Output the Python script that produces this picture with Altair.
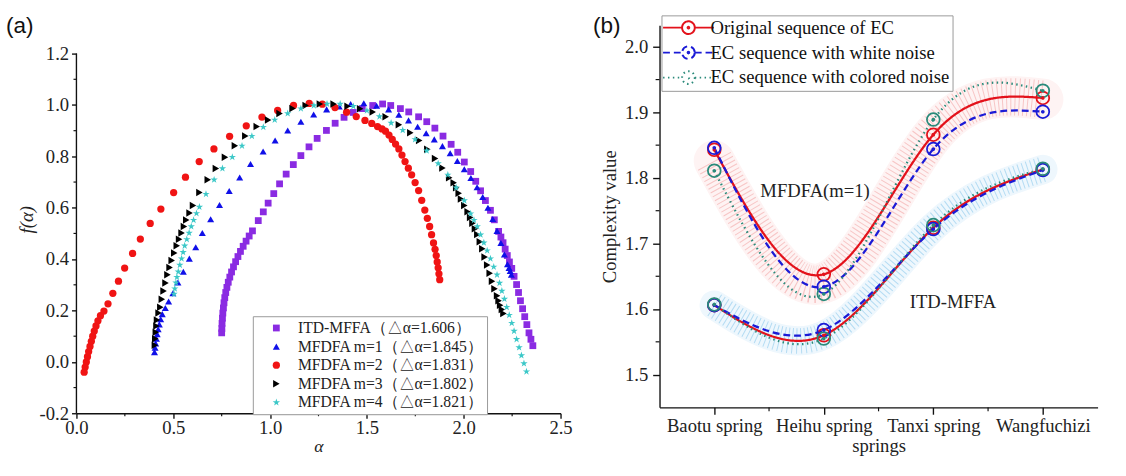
import json
import altair as alt
import pandas as pd

SERIF = "Liberation Serif"
SANS = "Liberation Sans"

# ======================= panel (a) data =======================
alpha_ticks = [0.0, 0.5, 1.0, 1.5, 2.0, 2.5]
alpha_minor = [0.25, 0.75, 1.25, 1.75, 2.25]
f_ticks = [-0.2, 0.0, 0.2, 0.4, 0.6, 0.8, 1.0, 1.2]
f_minor = [-0.1, 0.1, 0.3, 0.5, 0.7, 0.9, 1.1]

series_a = ["ITD-MFFA（△α=1.606）", "MFDFA m=1（△α=1.845）", "MFDFA m=2（△α=1.831）",
            "MFDFA m=3（△α=1.802）", "MFDFA m=4（△α=1.821）"]
colors_a = ["#8a2be2", "#1010e8", "#f01414", "#000000", "#3cc8c8"]
STAR = ("M0,-1L0.2245,-0.309L0.951,-0.309L0.363,0.118L0.588,0.809L0,0.382"
        "L-0.588,0.809L-0.363,0.118L-0.951,-0.309L-0.2245,-0.309Z")
shapes_a = ["square", "triangle-up", "circle", "triangle-right", STAR]
sizes_a = [48, 62, 58, 58, 90]

itd_points = [(0.750, 0.113), (0.751, 0.130), (0.752, 0.150), (0.754, 0.170), (0.756, 0.190),
              (0.759, 0.210), (0.762, 0.230), (0.766, 0.250), (0.771, 0.270), (0.777, 0.290),
              (0.784, 0.310), (0.792, 0.330), (0.801, 0.350), (0.811, 0.370), (0.822, 0.390),
              (0.834, 0.410), (0.847, 0.430), (0.861, 0.450), (0.876, 0.470), (0.892, 0.490),
              (0.909, 0.510), (0.939, 0.550), (0.965, 0.584), (0.990, 0.618), (1.019, 0.655),
              (1.049, 0.693), (1.083, 0.731), (1.120, 0.768), (1.159, 0.803), (1.201, 0.837),
              (1.243, 0.870), (1.291, 0.901), (1.336, 0.929), (1.382, 0.952), (1.429, 0.971),
              (1.476, 0.986), (1.530, 0.998), (1.581, 1.004), (1.623, 0.998), (1.673, 0.986),
              (1.716, 0.973), (1.767, 0.954), (1.809, 0.935), (1.851, 0.910), (1.893, 0.879),
              (1.935, 0.847), (1.969, 0.816), (2.003, 0.778), (2.036, 0.741), (2.062, 0.703),
              (2.087, 0.666), (2.112, 0.628), (2.138, 0.590), (2.158, 0.553), (2.180, 0.508),
              (2.192, 0.486), (2.203, 0.464), (2.214, 0.439), (2.225, 0.414), (2.236, 0.389),
              (2.248, 0.364), (2.260, 0.333), (2.273, 0.301), (2.283, 0.270), (2.293, 0.238),
              (2.304, 0.207), (2.315, 0.176), (2.326, 0.145), (2.337, 0.113), (2.347, 0.088),
              (2.357, 0.063)]

m1_points = [(0.403, 0.038), (0.406, 0.055), (0.409, 0.072), (0.413, 0.090), (0.417, 0.108),
             (0.422, 0.127), (0.428, 0.146), (0.435, 0.166), (0.443, 0.186), (0.459, 0.210),
             (0.476, 0.235), (0.498, 0.267), (0.524, 0.309), (0.552, 0.351), (0.583, 0.402),
             (0.616, 0.446), (0.650, 0.502), (0.693, 0.555), (0.739, 0.611), (0.789, 0.665),
             (0.843, 0.718), (0.899, 0.770), (0.964, 0.819), (1.026, 0.862), (1.091, 0.901),
             (1.159, 0.935), (1.225, 0.963), (1.292, 0.983), (1.357, 0.994), (1.416, 1.004),
             (1.484, 1.007), (1.550, 0.997), (1.612, 0.983), (1.665, 0.962), (1.715, 0.940),
             (1.762, 0.915), (1.806, 0.890), (1.848, 0.866), (1.890, 0.840), (1.930, 0.812),
             (1.967, 0.782), (2.003, 0.750), (2.037, 0.716), (2.069, 0.680), (2.098, 0.642),
             (2.125, 0.600), (2.150, 0.556), (2.172, 0.510), (2.192, 0.463), (2.210, 0.418),
             (2.226, 0.380), (2.234, 0.366), (2.240, 0.354), (2.246, 0.339)]

m2_points = [(0.040, -0.040), (0.045, -0.020), (0.051, 0.000), (0.057, 0.020), (0.063, 0.040),
             (0.070, 0.060), (0.077, 0.080), (0.084, 0.100), (0.092, 0.120), (0.101, 0.140),
             (0.111, 0.160), (0.124, 0.180), (0.142, 0.198), (0.163, 0.226), (0.188, 0.267),
             (0.217, 0.314), (0.249, 0.365), (0.290, 0.422), (0.330, 0.478), (0.381, 0.539),
             (0.436, 0.595), (0.502, 0.659), (0.563, 0.719), (0.634, 0.780), (0.710, 0.829),
             (0.791, 0.878), (0.877, 0.919), (0.958, 0.953), (1.039, 0.979), (1.121, 0.998),
             (1.202, 1.006), (1.270, 1.003), (1.335, 0.990), (1.395, 0.972), (1.445, 0.955),
             (1.490, 0.940), (1.525, 0.928), (1.555, 0.916), (1.578, 0.907), (1.596, 0.898),
             (1.614, 0.883), (1.631, 0.866), (1.648, 0.848), (1.665, 0.829), (1.681, 0.805),
             (1.697, 0.780), (1.714, 0.754), (1.731, 0.728), (1.749, 0.698), (1.767, 0.667),
             (1.783, 0.629), (1.799, 0.591), (1.812, 0.559), (1.824, 0.527), (1.834, 0.495),
             (1.844, 0.463), (1.852, 0.438), (1.858, 0.414), (1.863, 0.389), (1.868, 0.366),
             (1.872, 0.343), (1.876, 0.320)]

m3_points = [(0.405, 0.065), (0.407, 0.090), (0.410, 0.115), (0.413, 0.140), (0.416, 0.163),
             (0.424, 0.190), (0.433, 0.213), (0.441, 0.244), (0.450, 0.276), (0.460, 0.307),
             (0.470, 0.339), (0.481, 0.367), (0.492, 0.395), (0.505, 0.424), (0.518, 0.452),
             (0.530, 0.477), (0.543, 0.502), (0.555, 0.527), (0.567, 0.552), (0.584, 0.580),
             (0.602, 0.609), (0.635, 0.659), (0.678, 0.709), (0.720, 0.753), (0.767, 0.797),
             (0.818, 0.841), (0.872, 0.879), (0.931, 0.916), (0.990, 0.942), (1.049, 0.967),
             (1.116, 0.986), (1.184, 0.998), (1.257, 1.004), (1.328, 1.004), (1.400, 0.995),
             (1.465, 0.985), (1.530, 0.973), (1.597, 0.954), (1.665, 0.923), (1.724, 0.892),
             (1.770, 0.862), (1.812, 0.828), (1.852, 0.792), (1.890, 0.755), (1.925, 0.717),
             (1.948, 0.697), (1.961, 0.678), (1.974, 0.656), (1.986, 0.634), (2.003, 0.609),
             (2.020, 0.584), (2.033, 0.562), (2.045, 0.540), (2.058, 0.518), (2.070, 0.496),
             (2.083, 0.468), (2.096, 0.440), (2.108, 0.408), (2.121, 0.377), (2.134, 0.345),
             (2.146, 0.314), (2.159, 0.285), (2.172, 0.257), (2.180, 0.238), (2.188, 0.220),
             (2.197, 0.204), (2.205, 0.188)]

m4_points = [(0.504, 0.264), (0.508, 0.285), (0.514, 0.308), (0.519, 0.330), (0.526, 0.351),
             (0.534, 0.377), (0.543, 0.402), (0.551, 0.427), (0.559, 0.452), (0.570, 0.477),
             (0.582, 0.502), (0.593, 0.527), (0.605, 0.552), (0.620, 0.578), (0.635, 0.603),
             (0.669, 0.653), (0.711, 0.709), (0.754, 0.753), (0.805, 0.797), (0.855, 0.841),
             (0.906, 0.879), (0.965, 0.914), (1.024, 0.942), (1.091, 0.967), (1.159, 0.986),
             (1.226, 0.998), (1.294, 1.004), (1.362, 1.004), (1.430, 0.995), (1.500, 0.978),
             (1.565, 0.955), (1.625, 0.930), (1.685, 0.902), (1.749, 0.866), (1.809, 0.822),
             (1.868, 0.772), (1.918, 0.728), (1.961, 0.678), (2.003, 0.628), (2.036, 0.577),
             (2.053, 0.552), (2.070, 0.527), (2.087, 0.495), (2.104, 0.464), (2.121, 0.433),
             (2.138, 0.402), (2.155, 0.370), (2.172, 0.339), (2.185, 0.307), (2.197, 0.276),
             (2.210, 0.245), (2.222, 0.213), (2.235, 0.182), (2.248, 0.151), (2.260, 0.120),
             (2.273, 0.088), (2.286, 0.056), (2.298, 0.025), (2.311, -0.006), (2.324, -0.038)]

# ======================= panel (b) data =======================
springs = ["Baotu spring", "Heihu spring", "Tanxi spring", "Wangfuchizi"]
spring_idx = [0, 1, 2, 3]
spring_minor = [0.5, 1.5, 2.5]
cv_ticks = [1.5, 1.6, 1.7, 1.8, 1.9, 2.0]
cv_minor = [1.55, 1.65, 1.75, 1.85, 1.95]

seq_names = ["Original sequence of EC", "\u00a0EC sequence with white noise",
             "\u00a0EC sequence with colored noise"]
colors_b = ["#e3121b", "#1b1bd6", "#2a8a7a"]
dash_b = [[1, 0], [7, 4], [1.5, 3.5]]

mfdfa_original = [1.843, 1.653, 1.866, 1.922]
mfdfa_white = [1.846, 1.634, 1.844, 1.901]
mfdfa_colored = [1.811, 1.623, 1.889, 1.933]
itd_original = [1.606, 1.560, 1.724, 1.813]
itd_white = [1.606, 1.568, 1.722, 1.812]
itd_colored = [1.607, 1.555, 1.728, 1.814]
band_mfdfa = [1.826, 1.640, 1.866, 1.920]
band_itd = [1.606, 1.560, 1.725, 1.813]

annotations = ["MFDFA(m=1)", "ITD-MFFA"]
annot_x = [0.92, 2.18]
annot_v = [1.780, 1.610]

# ======================= build tables =======================
rows = []
for name, pts in zip(series_a, [itd_points, m1_points, m2_points, m3_points, m4_points]):
    for a, f in pts:
        rows.append({"series": name, "alpha": a, "f": f})
df_a = pd.DataFrame(rows)

rows = []
for method, vals in [("MFDFA", [mfdfa_original, mfdfa_white, mfdfa_colored]),
                     ("ITD", [itd_original, itd_white, itd_colored])]:
    for seq, vv in zip(seq_names, vals):
        for i, v in zip(spring_idx, vv):
            rows.append({"x": i, "v": v, "method": method, "seq": seq})
df_b = pd.DataFrame(rows)

df_band = pd.DataFrame(
    [{"x": i, "v": v, "method": "MFDFA"} for i, v in zip(spring_idx, band_mfdfa)]
    + [{"x": i, "v": v, "method": "ITD"} for i, v in zip(spring_idx, band_itd)])

df_ann = pd.DataFrame({"x": annot_x, "v": annot_v, "label": annotations})


def axis_style(**kw):
    base = dict(grid=False, domainColor="#111", domainWidth=1.4, tickColor="#111",
                tickWidth=1.4, labelFont=SERIF, labelFontSize=19, labelColor="#222",
                titleFont=SERIF, titleFontSize=19, titleFontWeight="normal",
                titleColor="#222", labelFlush=False, labelOverlap=False)
    base.update(kw)
    return alt.Axis(**base)


# ======================= panel (a) =======================
PX_PER_F = 262.0              # vertical pixels per unit of f(alpha)
W_A = 494
TOP_EXTRA = 29                # empty space above the 1.2 tick
H_A = int(round(1.4 * PX_PER_F)) + TOP_EXTRA
F_TOP = 1.2 + TOP_EXTRA / PX_PER_F
minus_fix = "replace(format(datum.value, '.1f'), '\u2212', '-')"

x_a = alt.X("alpha:Q", scale=alt.Scale(domain=[0, 2.5], nice=False, zero=False),
            axis=axis_style(values=alpha_ticks, labelExpr=minus_fix, title="α",
                            titleFontStyle="italic", titleFontSize=18, tickSize=5,
                            labelPadding=1, titlePadding=0))
y_a = alt.Y("f:Q", title="f(α)", scale=alt.Scale(domain=[-0.2, F_TOP], nice=False, zero=False),
            axis=axis_style(values=f_ticks, labelExpr=minus_fix, title="f(α)",
                            titleFontStyle="italic", tickSize=5, labelPadding=3,
                            titlePadding=3, domain=False))

leg_a = alt.Legend(title=None, orient="none", legendX=180, legendY=297, direction="vertical",
                   labelFont=SERIF, labelFontSize=16, labelColor="#222", symbolSize=50,
                   strokeColor="#999", fillColor="white", padding=4, rowPadding=3,
                   symbolOffset=12, labelOffset=14, labelLimit=400)

points_a = alt.Chart(df_a).mark_point(filled=True, opacity=1, strokeWidth=0).encode(
    x=x_a, y=y_a,
    color=alt.Color("series:N", scale=alt.Scale(domain=series_a, range=colors_a), legend=leg_a),
    shape=alt.Shape("series:N", scale=alt.Scale(domain=series_a, range=shapes_a), legend=leg_a),
    size=alt.Size("series:N", scale=alt.Scale(domain=series_a, range=sizes_a), legend=None),
)

yline_a = alt.Chart(pd.DataFrame({"f": [f_ticks[0]], "f_end": [f_ticks[-1]]})).mark_rule(
    color="#111", strokeWidth=1.4).encode(
    x=alt.value(0), y=alt.Y("f:Q", title="f(α)"), y2="f_end:Q")
minor_x_a = alt.Chart(pd.DataFrame({"alpha": alpha_minor})).mark_rule(
    color="#111", strokeWidth=1.2).encode(x="alpha:Q", y=alt.value(H_A), y2=alt.value(H_A + 3))
minor_y_a = alt.Chart(pd.DataFrame({"f": f_minor})).mark_rule(
    color="#111", strokeWidth=1.2).encode(y=alt.Y("f:Q", title="f(α)"),
                                          x=alt.value(-3), x2=alt.value(0))

label_a = alt.Chart(pd.DataFrame({"t": ["(a)"]})).mark_text(
    align="left", baseline="top", font=SANS, fontSize=23, color="#111").encode(
    text="t:N", x=alt.value(-72), y=alt.value(-10))

chart_a = alt.layer(points_a, yline_a, minor_x_a, minor_y_a, label_a).properties(
    width=W_A, height=H_A)

# ======================= panel (b) =======================
W_B, H_B = 447, 390
spring_expr = json.dumps(springs) + "[datum.value]"

x_b = alt.X("x:Q", scale=alt.Scale(domain=[-0.5, 3.5], nice=False, zero=False),
            axis=axis_style(values=spring_idx, labelExpr=spring_expr, title="springs",
                            tickSize=7, labelPadding=3, titlePadding=1))
y_b = alt.Y("v:Q", scale=alt.Scale(domain=[1.45, 2.033], nice=False, zero=False),
            axis=axis_style(values=cv_ticks, format=".1f", title="Complexity value",
                            tickSize=7, labelPadding=5, titlePadding=5))

SYM = ("M-3.6,0L-0.9,0M0.9,0L3.6,0M0.9,0A0.9,0.9,0,1,1,-0.9,0A0.9,0.9,0,1,1,0.9,0"
       "M0.12,0A0.12,0.12,0,1,1,-0.12,0A0.12,0.12,0,1,1,0.12,0")
leg_b = alt.Legend(title=None, orient="none", legendX=2, legendY=-10, direction="vertical",
                   labelFont=SERIF, labelFontSize=19, labelColor="#111", symbolType=SYM,
                   symbolSize=207, symbolStrokeWidth=2, symbolFillColor="white",
                   strokeColor="#999", fillColor="white", padding=3, rowPadding=4.5,
                   symbolOffset=15, labelOffset=13, labelLimit=400)

color_b = alt.Color("seq:N", scale=alt.Scale(domain=seq_names, range=colors_b), legend=leg_b)
dash_enc = alt.StrokeDash("seq:N", scale=alt.Scale(domain=seq_names, range=dash_b), legend=leg_b)

band_layers = []
for method, w, fill, hatch in [("MFDFA", 42, "#fef3f3", "#f4b6b6"),
                               ("ITD", 30, "#eef7fd", "#9fd2ef")]:
    base = alt.Chart(df_band).transform_filter(alt.datum.method == method)
    band_layers.append(base.mark_line(interpolate="natural", strokeWidth=w, strokeCap="round",
                                      color=fill).encode(x=x_b, y=y_b))
    band_layers.append(base.mark_line(interpolate="natural", strokeWidth=w - 4, strokeCap="butt",
                                      color=hatch, strokeDash=[1.0, 3.4], opacity=0.75
                                      ).encode(x=x_b, y=y_b))

lines_b = alt.Chart(df_b).mark_line(interpolate="natural", strokeWidth=2.3).encode(
    x=x_b, y=y_b, color=color_b, strokeDash=dash_enc, detail="method:N")
circles_b = alt.Chart(df_b).mark_point(shape="circle", filled=False, size=170, strokeWidth=1.8,
                                       opacity=1).encode(x=x_b, y=y_b, color=color_b)
dots_b = alt.Chart(df_b).mark_point(shape="circle", filled=False, size=3, strokeWidth=2,
                                    opacity=1).encode(x=x_b, y=y_b, color=color_b)

ann_b = alt.Chart(df_ann).mark_text(font=SERIF, fontSize=19, color="#222").encode(
    x="x:Q", y="v:Q", text="label:N")

minor_x_b = alt.Chart(pd.DataFrame({"x": spring_minor})).mark_rule(
    color="#111", strokeWidth=1.2).encode(x="x:Q", y=alt.value(H_B), y2=alt.value(H_B + 4))
minor_y_b = alt.Chart(pd.DataFrame({"v": cv_minor})).mark_rule(
    color="#111", strokeWidth=1.2).encode(y="v:Q", x=alt.value(-4), x2=alt.value(0))

label_b = alt.Chart(pd.DataFrame({"t": ["(b)"]})).mark_text(
    align="left", baseline="top", font=SANS, fontSize=23, color="#111").encode(
    text="t:N", x=alt.value(-68), y=alt.value(-10))

chart_b = alt.layer(*band_layers, lines_b, circles_b, dots_b, ann_b, minor_x_b, minor_y_b,
                    label_b).properties(width=W_B, height=H_B)

chart = alt.hconcat(chart_a, chart_b, spacing=21).resolve_scale(
    color="independent", shape="independent", strokeDash="independent", size="independent"
).properties(
    padding={"left": 6, "top": 10, "right": 0, "bottom": 0}, background="white"
).configure_view(stroke=None)

chart.save("out.html", embed_options={"renderer": "svg", "actions": False})
